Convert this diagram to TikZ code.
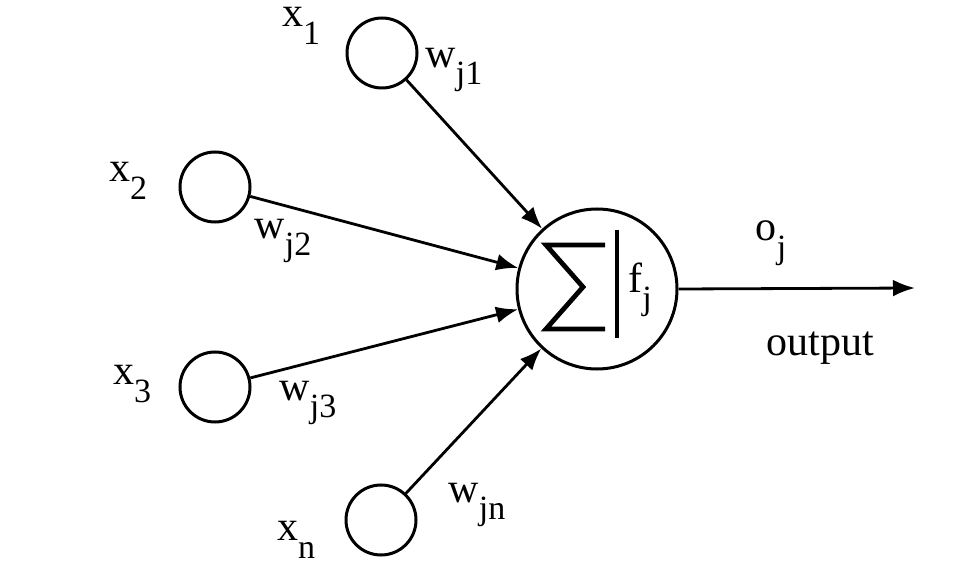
\documentclass[tikz,border=0pt]{standalone}
\usepackage{fontspec}
\setmainfont{Liberation Serif}
\usetikzlibrary{arrows.meta}
\newcommand\mysub[1]{\raisebox{-0.42em}{\fontsize{8.5}{8.5}\selectfont #1}}
\begin{document}
\begin{tikzpicture}[x=0.25pt,y=-0.25pt,
  inp/.style={draw,circle,line width=0.75pt,minimum size=17.5pt,inner sep=0pt},
  neuron/.style={draw,circle,line width=0.75pt,minimum size=40pt,inner sep=0pt},
  lbl/.style={inner sep=0pt,font=\fontsize{10.5}{12}\selectfont},
  conn/.style={line width=0.7pt,-{Latex[length=5.5pt,width=4.2pt]}}]
\useasboundingbox (0,0) rectangle (975,577);
% neuron
\node[neuron] (sum) at (597,289) {};
\coordinate (s1) at (605,245);
\coordinate (s2) at (546,245);
\coordinate (s3) at (583,287);
\coordinate (s4) at (546,329);
\coordinate (s5) at (605,329);
\draw[line width=1.2pt,line join=miter] (s1) -- (s2) -- (s3) -- (s4) -- (s5);
\coordinate (bartop) at (617,230);
\coordinate (barbot) at (617,338);
\draw[line width=0.8pt] (bartop) -- (barbot);
\node[lbl] (fj) at (640,290) {f\mysub{j}};
% inputs
\node[inp] (x1) at (382,53) {};
\node[inp] (x2) at (215,187) {};
\node[inp] (x3) at (215,387) {};
\node[inp] (xn) at (381,520) {};
% input labels
\node[lbl] (lx1) at (301,26) {x\mysub{1}};
\node[lbl] (lx2) at (128,181) {x\mysub{2}};
\node[lbl] (lx3) at (132,384) {x\mysub{3}};
\node[lbl] (lxn) at (296,540) {x\mysub{n}};
% weights
\node[lbl] (w1) at (454,70) {w\mysub{j1}};
\node[lbl] (w2) at (283,241) {w\mysub{j2}};
\node[lbl] (w3) at (308,403) {w\mysub{j3}};
\node[lbl] (wn) at (477,505) {w\mysub{jn}};
% connectors
\draw[conn] (x1) -- (sum);
\draw[conn] (x2) -- (sum);
\draw[conn] (x3) -- (sum);
\draw[conn] (xn) -- (sum);
% output
\coordinate (out) at (915,288);
\draw[conn] (sum.east) -- (out);
\node[lbl] (oj) at (771,243) {o\mysub{j}};
\node[lbl] (outlbl) at (820,348) {output};
\end{tikzpicture}
\end{document}
